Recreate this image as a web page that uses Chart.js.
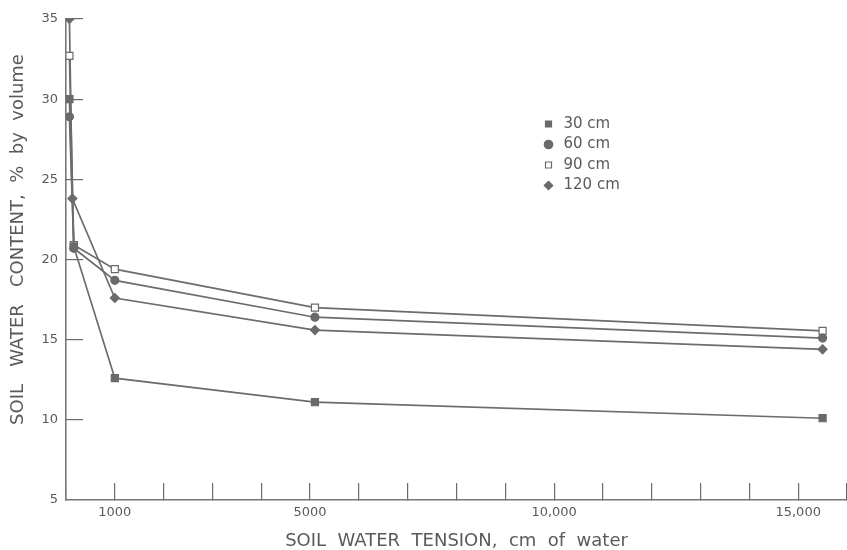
<!DOCTYPE html>
<html><head><meta charset="utf-8">
<script src="https://cdn.jsdelivr.net/npm/chart.js@4/dist/chart.umd.min.js"></script>
<style>html,body{margin:0;padding:0;background:#fff;}#wrap{width:847px;height:550px;}</style>
</head><body><div id="wrap"><canvas id="c" width="847" height="550"></canvas></div>
<script>
const seriesLabels = ['30 cm', '60 cm', '90 cm', '120 cm'];
const tension = [70, 160, 1000, 5100, 15500];
const tension120 = [70, 130, 1000, 5100, 15500];
const water30 = [30.0, 20.8, 12.6, 11.1, 10.1];
const water60 = [28.9, 20.7, 18.7, 16.4, 15.1];
const water90 = [32.7, 20.9, 19.4, 17.0, 15.55];
const water120 = [35.0, 23.8, 17.6, 15.6, 14.4];
const xTickValues = [1000, 5000, 10000, 15000];
const xTickText = ['1000', '5000', '10,000', '15,000'];
const yTickValues = [5, 10, 15, 20, 25, 30, 35];

const LINE = '#6c6c6c', MARK = '#6a6a6a', TXT = '#5a5a5a';
const pts = (xs, ys) => xs.map((x, i) => ({x: x, y: ys[i]}));
function ds(label, xs, ys, style, radius, fill) {
  return {label: label, data: pts(xs, ys), borderColor: LINE, borderWidth: 1.7,
    pointStyle: style, pointRadius: radius, pointBackgroundColor: fill, pointBorderColor: MARK,
    pointBorderWidth: 1.2, backgroundColor: fill, tension: 0, fill: false};
}
function noPad(s) { s.paddingLeft = 0; s.paddingRight = 0; s.paddingTop = 0; s.paddingBottom = 0; }

const legendPlace = {
  id: 'legendPlace',
  beforeDraw(chart) {
    const lg = chart.legend;
    if (!lg) return;
    lg.left = 535.5; lg.right = 700; lg.top = 111; lg.bottom = 200;
  }
};

new Chart(document.getElementById('c'), {
  type: 'line',
  data: {datasets: [
    ds(seriesLabels[0], tension, water30, 'rect', 5, MARK),
    ds(seriesLabels[1], tension, water60, 'circle', 4, MARK),
    ds(seriesLabels[2], tension, water90, 'rect', 5, '#ffffff'),
    ds(seriesLabels[3], tension120, water120, 'rectRot', 4.5, MARK)
  ]},
  options: {
    responsive: false, devicePixelRatio: 1, animation: false,
    layout: {autoPadding: false, padding: {top: 19, right: 0, left: 0, bottom: 0}},
    plugins: {
      tooltip: {enabled: false},
      legend: {position: 'chartArea', align: 'start',
        labels: {usePointStyle: true, boxWidth: 15, boxHeight: 6, padding: 5.5, color: TXT,
          font: {family: 'DejaVu Sans', size: 15}}}
    },
    scales: {
      x: {type: 'linear', min: 0, max: 16000,
        afterFit(s) { s.height = 50; noPad(s); },
        afterBuildTicks(s) { const t = []; for (let v = 0; v <= 16000; v += 1000) t.push({value: v}); s.ticks = t; },
        ticks: {autoSkip: false, maxRotation: 0, padding: 22, color: TXT,
          font: {family: 'DejaVu Sans', size: 13},
          callback(v) { const i = xTickValues.indexOf(v); return i >= 0 ? xTickText[i] : ''; }},
        grid: {drawOnChartArea: false, drawTicks: true, tickLength: -17, color: '#6a6a6a', lineWidth: 1.2},
        border: {display: true, color: '#777', width: 1.6},
        title: {display: true, text: 'SOIL  WATER  TENSION,  cm  of  water', color: TXT,
          font: {family: 'DejaVu Sans', size: 18, lineHeight: 1}, padding: {top: 0, bottom: 0}}
      },
      y: {type: 'linear', min: 5, max: 35,
        afterFit(s) { s.width = 66; noPad(s); },
        afterBuildTicks(s) { s.ticks = yTickValues.map(v => ({value: v})); },
        ticks: {padding: 25, color: TXT, font: {family: 'DejaVu Sans', size: 13},
          callback(v) { return String(v); }},
        grid: {drawOnChartArea: false, drawTicks: true, tickLength: -17,
          color: (c) => (c.tick && c.tick.value === 5) ? 'rgba(0,0,0,0)' : '#6a6a6a', lineWidth: 1.2},
        border: {display: true, color: '#777', width: 1.6},
        title: {display: true, text: '       SOIL   WATER   CONTENT,  %  by  volume', color: TXT,
          font: {family: 'DejaVu Sans', size: 18, lineHeight: 1}, padding: {top: 9, bottom: 0}}
      }
    }
  },
  plugins: [legendPlace]
});
</script></body></html>
